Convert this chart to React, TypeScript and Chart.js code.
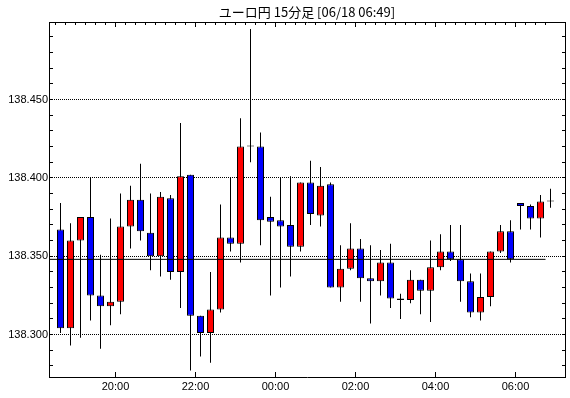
import React, { useEffect, useRef } from 'react';
import { Chart, registerables } from 'chart.js';

Chart.register(...registerables);

const chartTitle = 'ユーロ円 15分足 [06/18 06:49]';

// 15-minute candles from 18:30 to 06:45 (index 0..49)
const opens = [
  138.367, 138.304, 138.360, 138.375, 138.325, 138.318, 138.321, 138.369, 138.386, 138.365,
  138.350, 138.387, 138.340, 138.402, 138.312, 138.301, 138.316, 138.362, 138.358, 138.420,
  138.420, 138.375, 138.373, 138.370, 138.356, 138.397, 138.376, 138.396, 138.330, 138.342,
  138.355, 138.336, 138.334, 138.346, 138.323, 138.322, 138.335, 138.328, 138.343, 138.353,
  138.348, 138.334, 138.314, 138.324, 138.353, 138.366, 138.384, 138.382, 138.374, 138.385,
];
const highs = [
  138.384, 138.371, 138.375, 138.400, 138.351, 138.374, 138.390, 138.395, 138.409, 138.390,
  138.391, 138.389, 138.435, 138.402, 138.312, 138.340, 138.383, 138.400, 138.438, 138.495,
  138.429, 138.388, 138.400, 138.401, 138.397, 138.411, 138.407, 138.397, 138.357, 138.371,
  138.361, 138.357, 138.354, 138.358, 138.326, 138.341, 138.335, 138.360, 138.364, 138.370,
  138.370, 138.339, 138.339, 138.353, 138.370, 138.373, 138.384, 138.383, 138.389, 138.393,
];
const lows = [
  138.301, 138.293, 138.298, 138.309, 138.291, 138.306, 138.313, 138.355, 138.360, 138.341,
  138.337, 138.335, 138.317, 138.277, 138.286, 138.282, 138.314, 138.353, 138.346, 138.410,
  138.357, 138.325, 138.330, 138.337, 138.353, 138.370, 138.369, 138.330, 138.321, 138.341,
  138.321, 138.307, 138.325, 138.317, 138.310, 138.320, 138.313, 138.308, 138.341, 138.347,
  138.321, 138.311, 138.309, 138.318, 138.352, 138.346, 138.367, 138.367, 138.362, 138.381,
];
const closes = [
  138.304, 138.360, 138.375, 138.325, 138.318, 138.321, 138.369, 138.386, 138.366, 138.350,
  138.388, 138.340, 138.401, 138.312, 138.301, 138.316, 138.362, 138.358, 138.420, 138.420,
  138.373, 138.372, 138.369, 138.356, 138.397, 138.377, 138.395, 138.330, 138.342, 138.355,
  138.336, 138.334, 138.346, 138.323, 138.322, 138.335, 138.328, 138.343, 138.353, 138.348,
  138.334, 138.314, 138.324, 138.353, 138.366, 138.348, 138.382, 138.374, 138.385, 138.385,
];

// Bottom axis labels (2-hour marks, expressed in candle-index units)
const xTickPositions = [5.5, 13.5, 21.5, 29.5, 37.5, 45.5];
const xTickLabels = ['20:00', '22:00', '00:00', '02:00', '04:00', '06:00'];

// Price axis ticks
const yTicks = [
  138.28, 138.29, 138.30, 138.31, 138.32, 138.33, 138.34, 138.35, 138.36, 138.37, 138.38,
  138.39, 138.40, 138.41, 138.42, 138.43, 138.44, 138.45, 138.46, 138.47, 138.48, 138.49,
];
const yLabelValues = [138.30, 138.35, 138.40, 138.45];

// Horizontal reference line
const refLevel = 138.348;
const refLineEndIndex = 48.5;

const X_MIN = -1.15;
const X_MAX = 50.45;
const Y_MIN = 138.2729;
const Y_MAX = 138.4995;

const UP = '#FF0000';
const DOWN = '#0000FF';
const BLACK = '#000000';

const isMajor = (v: number) => yLabelValues.some((m) => Math.abs(m - v) < 1e-6);

export default function App() {
  const canvasRef = useRef<HTMLCanvasElement>(null);

  useEffect(() => {
    const canvas = canvasRef.current;
    if (!canvas) return;
    const labelFont = { family: "'Liberation Sans', Arial, sans-serif", size: 11 };
    const boundaryTicks = opens.map((_, i) => i - 0.5);

    const bodies = opens.map((o, i) => ({ x: i, y: [o, closes[i]] }));
    const wicks = opens.map((_, i) => ({ x: i, y: [lows[i], highs[i]] }));
    const bodyColors = opens.map((o, i) => (closes[i] > o ? UP : DOWN));

    const chart = new Chart(canvas, {
      type: 'bar',
      data: {
        datasets: [
          {
            type: 'line',
            data: [
              { x: X_MIN, y: refLevel },
              { x: refLineEndIndex, y: refLevel },
            ],
            borderColor: BLACK,
            borderWidth: 1,
            pointRadius: 0,
            tension: 0,
            order: 0,
            xAxisID: 'x',
            yAxisID: 'y',
          } as any,
          {
            type: 'bar',
            data: bodies,
            backgroundColor: bodyColors,
            borderColor: BLACK,
            borderWidth: 1,
            borderSkipped: false,
            barThickness: 7,
            minBarLength: 1,
            inflateAmount: 0,
            grouped: false,
            order: 1,
            xAxisID: 'x',
            yAxisID: 'y',
          } as any,
          {
            type: 'bar',
            data: wicks,
            backgroundColor: BLACK,
            borderWidth: 0,
            barThickness: 1,
            inflateAmount: 0,
            grouped: false,
            order: 2,
            xAxisID: 'x',
            yAxisID: 'y',
          } as any,
        ],
      },
      options: {
        responsive: false,
        maintainAspectRatio: false,
        animation: false,
        devicePixelRatio: 1,
        layout: { padding: 0 },
        plugins: {
          legend: { display: false },
          tooltip: { enabled: false },
        },
        scales: {
          x: {
            type: 'linear',
            position: 'bottom',
            min: X_MIN,
            max: X_MAX,
            offset: false,
            afterBuildTicks: (s: any) => {
              s.ticks = xTickPositions.map((v) => ({ value: v }));
            },
            afterFit: (s: any) => {
              s.height = 21;
            },
            ticks: {
              autoSkip: false,
              maxRotation: 0,
              minRotation: 0,
              padding: 8,
              color: BLACK,
              font: labelFont,
              callback: (_v: any, i: number) => xTickLabels[i] ?? '',
            },
            grid: {
              display: true,
              drawOnChartArea: false,
              drawTicks: true,
              tickLength: -5,
              tickColor: BLACK,
              tickWidth: 1,
              offset: false,
            },
            border: { display: true, color: BLACK, width: 1 },
          },
          x2: {
            type: 'linear',
            position: 'top',
            weight: 1,
            min: X_MIN,
            max: X_MAX,
            offset: false,
            afterBuildTicks: (s: any) => {
              s.ticks = boundaryTicks.map((v) => ({ value: v }));
            },
            afterFit: (s: any) => {
              s.height = 22;
            },
            ticks: { display: false, autoSkip: false },
            grid: {
              display: true,
              drawOnChartArea: false,
              drawTicks: true,
              tickLength: -3,
              tickColor: BLACK,
              tickWidth: 1,
              offset: false,
            },
            border: { display: true, color: BLACK, width: 1 },
            title: {
              display: true,
              text: chartTitle,
              color: BLACK,
              font: { family: "'Noto Sans CJK JP', sans-serif", size: 13 },
              padding: { top: 4, bottom: 0 },
            },
          },
          x3: {
            type: 'linear',
            position: 'top',
            weight: 0,
            min: X_MIN,
            max: X_MAX,
            offset: false,
            afterBuildTicks: (s: any) => {
              s.ticks = xTickPositions.map((v) => ({ value: v }));
            },
            afterFit: (s: any) => {
              s.height = 0;
            },
            ticks: { display: false, autoSkip: false },
            grid: {
              display: true,
              drawOnChartArea: false,
              drawTicks: true,
              tickLength: -5,
              tickColor: BLACK,
              tickWidth: 1,
              offset: false,
            },
            border: { display: false },
          },
          y: {
            type: 'linear',
            position: 'left',
            min: Y_MIN,
            max: Y_MAX,
            afterBuildTicks: (s: any) => {
              s.ticks = yTicks.map((v) => ({ value: v }));
            },
            afterFit: (s: any) => {
              s.width = 49;
            },
            ticks: {
              autoSkip: false,
              padding: 5,
              color: BLACK,
              font: labelFont,
              callback: (v: any) => (isMajor(Number(v)) ? Number(v).toFixed(3) : ''),
            },
            grid: {
              display: true,
              drawOnChartArea: true,
              drawTicks: true,
              tickLength: -4,
              tickColor: BLACK,
              tickWidth: 1,
              tickBorderDash: [],
              lineWidth: 1,
              color: (ctx: any) =>
                ctx.tick && isMajor(ctx.tick.value) ? BLACK : 'rgba(0,0,0,0)',
            },
            border: { display: true, color: BLACK, width: 1, dash: [1, 1] },
          },
          y2: {
            type: 'linear',
            position: 'right',
            min: Y_MIN,
            max: Y_MAX,
            afterBuildTicks: (s: any) => {
              s.ticks = yTicks.map((v) => ({ value: v }));
            },
            afterFit: (s: any) => {
              s.width = 5;
            },
            ticks: { display: false, autoSkip: false },
            grid: {
              display: true,
              drawOnChartArea: false,
              drawTicks: true,
              tickLength: -3,
              tickColor: BLACK,
              tickWidth: 1,
            },
            border: { display: true, color: BLACK, width: 1 },
          },
        },
      } as any,
    });
    return () => chart.destroy();
  }, []);

  return (
    <div
      style={{
        position: 'fixed',
        left: 0,
        top: 0,
        width: 570,
        height: 398,
        background: '#ffffff',
      }}
    >
      <canvas
        ref={canvasRef}
        width={570}
        height={398}
        style={{ display: 'block', width: 570, height: 398 }}
      />
    </div>
  );
}
